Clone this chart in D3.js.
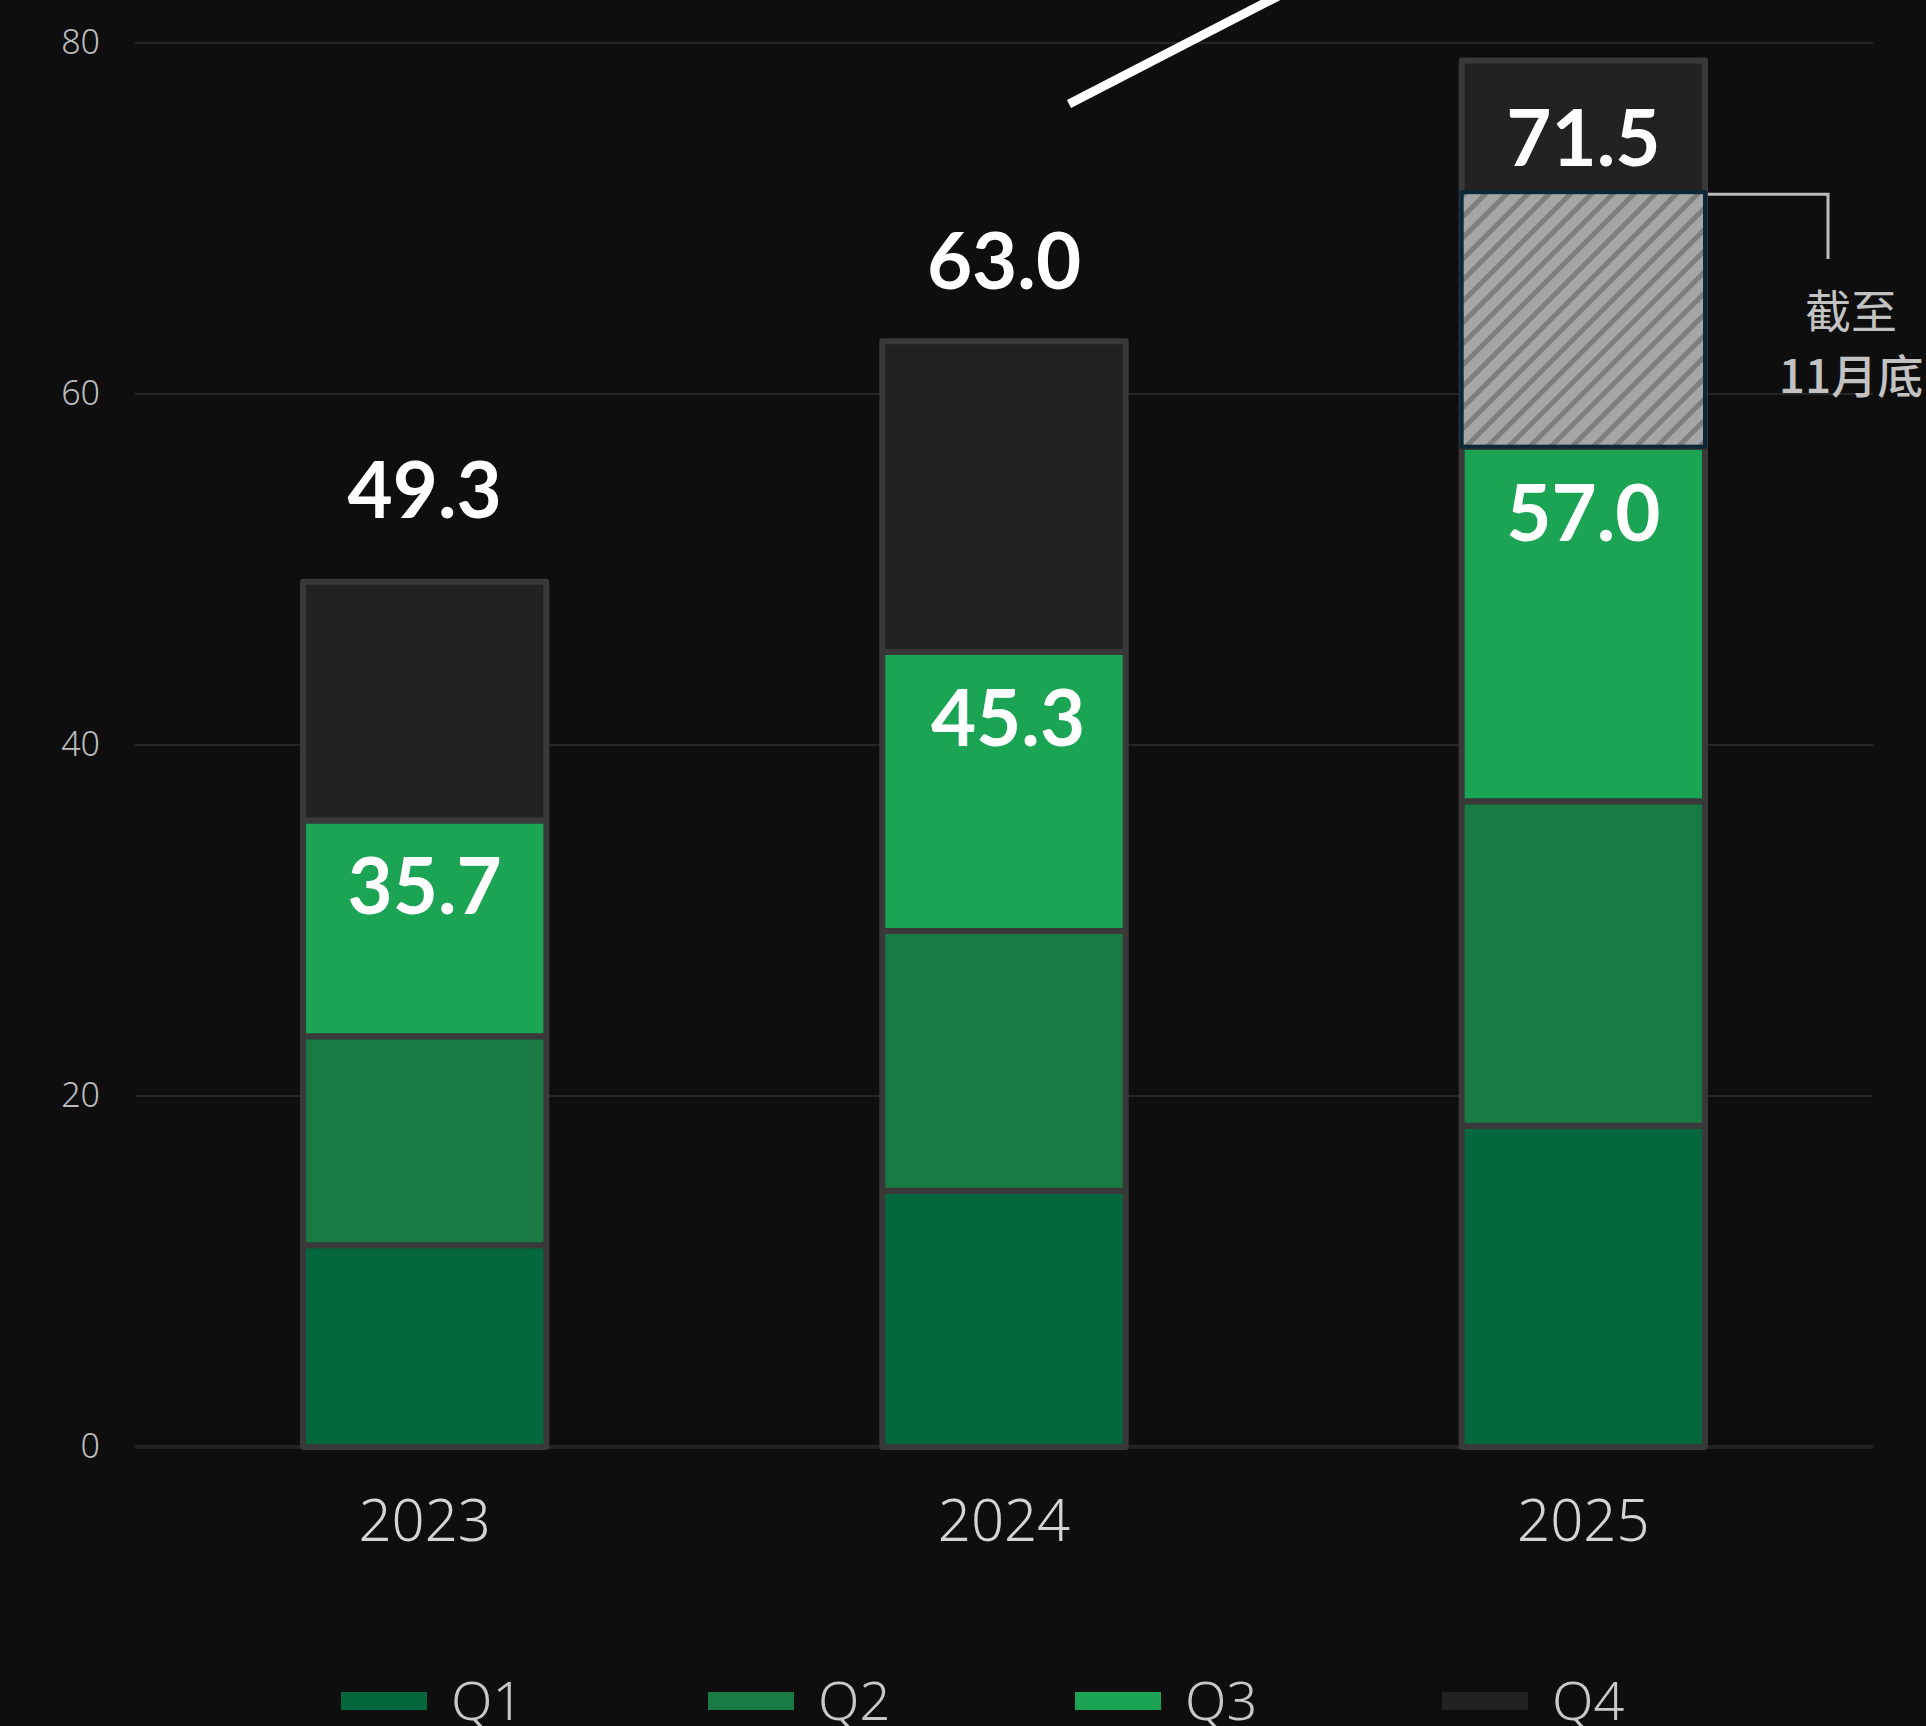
<!DOCTYPE html>
<html>
<head>
<meta charset="utf-8">
<script src="https://cdn.jsdelivr.net/npm/d3@7"></script>
<style>
  body { margin: 0; background: #0e0e0e; }
  svg { display: block; }
</style>
</head>
<body>
<div id="chart"></div>
<script>
const years = ['2023', '2024', '2025'];
const quarters = ['Q1', 'Q2', 'Q3', 'Q4'];
const q1 = [11.5, 14.6, 18.3];
const q2 = [11.9, 14.8, 18.5];
const q3 = [12.3, 15.9, 20.2];
const q4 = [13.6, 17.7, 22.0];
// Oct-Nov 2025 (as of end of November), drawn on top of Q3
const partial = [0, 0, 14.5];
const q3Labels = ['35.7', '45.3', '57.0'];
const totalLabels = ['49.3', '63.0', '71.5'];
const yTicks = [0, 20, 40, 60, 80];
const colors = ['#05673e', '#1a7a43', '#1aa453', '#222222'];

const width = 1926;
const height = 1726;

const rows = years.map((y, i) => ({ year: y, Q1: q1[i], Q2: q2[i], Q3: q3[i], Q4: q4[i] }));
const stacked = d3.stack().keys(quarters)(rows);

const xScale = d3.scaleBand()
    .domain(years)
    .range([135, 1873])
    .paddingInner(0.58)
    .paddingOuter(0.29);

const yScale = d3.scaleLinear()
    .domain([0, 80])
    .range([1447, 43]);

const svg = d3.select('#chart')
    .append('svg')
    .attr('width', width)
    .attr('height', height);

svg.append('rect')
    .attr('width', width)
    .attr('height', height)
    .attr('fill', '#0e0e0e');

// hatch pattern for partial quarter
const pat = svg.append('defs').append('pattern')
    .attr('id', 'hatch')
    .attr('patternUnits', 'userSpaceOnUse')
    .attr('width', 15)
    .attr('height', 15)
    .attr('patternTransform', 'rotate(45)');
pat.append('rect').attr('width', 15).attr('height', 15).attr('fill', '#a6a6a6');
pat.append('rect').attr('width', 5).attr('height', 15).attr('fill', '#7e7e7e');

// gridlines
svg.append('g')
    .selectAll('line')
    .data(yTicks)
    .enter()
    .append('line')
    .attr('x1', 135)
    .attr('x2', 1873)
    .attr('y1', d => yScale(d))
    .attr('y2', d => yScale(d))
    .attr('stroke', d => d === 0 ? '#222222' : '#262626')
    .attr('stroke-width', d => d === 0 ? 4 : 2);

// y axis labels
const yAxis = svg.append('g')
    .attr('transform', 'translate(100,0)')
    .call(d3.axisLeft(yScale).tickValues(yTicks).tickSize(0).tickPadding(0));
yAxis.select('.domain').remove();
yAxis.selectAll('text')
    .attr('fill', '#bcbcbc')
    .attr('font-family', 'Noto Sans')
    .attr('font-weight', 300)
    .attr('font-size', 34);

// x axis labels
const xAxis = svg.append('g')
    .attr('transform', 'translate(0,1500)')
    .call(d3.axisBottom(xScale).tickSize(0).tickPadding(0));
xAxis.select('.domain').remove();
xAxis.selectAll('text')
    .attr('fill', '#d4d4d4')
    .attr('font-family', 'Noto Sans')
    .attr('font-weight', 300)
    .attr('font-size', 58);

// stacked bars
svg.append('g')
    .selectAll('g')
    .data(stacked)
    .enter()
    .append('g')
    .attr('fill', (d, i) => colors[i])
    .selectAll('rect')
    .data(d => d)
    .enter()
    .append('rect')
    .attr('x', d => xScale(d.data.year))
    .attr('y', d => yScale(d[1]))
    .attr('width', xScale.bandwidth())
    .attr('height', d => yScale(d[0]) - yScale(d[1]))
    .attr('stroke', '#393939')
    .attr('stroke-width', 6)
    .attr('stroke-linejoin', 'round');

// partial (hatched) segment
const partRows = years.map((y, i) => ({ year: y, base: q1[i] + q2[i] + q3[i], v: partial[i] }))
    .filter(d => d.v > 0);
svg.append('g')
    .selectAll('rect')
    .data(partRows)
    .enter()
    .append('rect')
    .attr('x', d => xScale(d.year))
    .attr('y', d => yScale(d.base + d.v))
    .attr('width', xScale.bandwidth())
    .attr('height', d => yScale(d.base) - yScale(d.base + d.v))
    .attr('fill', 'url(#hatch)')
    .attr('stroke', '#0c2838')
    .attr('stroke-width', 4);

// labels inside Q3
svg.append('g')
    .selectAll('text')
    .data(years)
    .enter()
    .append('text')
    .attr('x', (d, i) => xScale(d) + xScale.bandwidth() / 2 + (i === 1 ? 4 : 0))
    .attr('y', (d, i) => yScale(q1[i] + q2[i] + q3[i]) + 94)
    .attr('text-anchor', 'middle')
    .attr('fill', '#ffffff')
    .attr('font-family', 'Lato')
    .attr('font-weight', 700)
    .attr('font-size', 78)
    .text((d, i) => q3Labels[i]);

// total labels
const totalVals = [q1[0] + q2[0] + q3[0] + q4[0], q1[1] + q2[1] + q3[1] + q4[1], q1[2] + q2[2] + q3[2] + partial[2]];
const totalOffset = [64, 52, 26];
svg.append('g')
    .selectAll('text')
    .data(years)
    .enter()
    .append('text')
    .attr('x', d => xScale(d) + xScale.bandwidth() / 2)
    .attr('y', (d, i) => yScale(totalVals[i]) - totalOffset[i])
    .attr('text-anchor', 'middle')
    .attr('fill', '#ffffff')
    .attr('font-family', 'Lato')
    .attr('font-weight', 700)
    .attr('font-size', 78)
    .text((d, i) => totalLabels[i]);

// annotation bracket
const annY = yScale(q1[2] + q2[2] + q3[2] + partial[2]) + 2;
const annX0 = xScale('2025') + xScale.bandwidth() + 3;
svg.append('path')
    .attr('d', `M${annX0},${annY}H1828V259`)
    .attr('fill', 'none')
    .attr('stroke', '#bdbdbd')
    .attr('stroke-width', 3);

svg.append('text')
    .attr('x', 1851)
    .attr('y', 328)
    .attr('text-anchor', 'middle')
    .attr('fill', '#c2c2c2')
    .attr('font-family', 'Noto Sans CJK TC')
    .attr('font-weight', 400)
    .attr('font-size', 46)
    .text('截至');
svg.append('text')
    .attr('x', 1851)
    .attr('y', 393)
    .attr('text-anchor', 'middle')
    .attr('fill', '#c2c2c2')
    .attr('font-family', 'Noto Sans CJK TC')
    .attr('font-weight', 500)
    .attr('font-size', 46)
    .text('11月底');

// trend line fragment at top
svg.append('line')
    .attr('x1', 1069)
    .attr('y1', 104)
    .attr('x2', 1290)
    .attr('y2', -10)
    .attr('stroke', '#ffffff')
    .attr('stroke-width', 9);

// legend
const legend = svg.append('g')
    .selectAll('g')
    .data(quarters)
    .enter()
    .append('g')
    .attr('transform', (d, i) => `translate(${341 + i * 367},1692)`);
legend.append('rect')
    .attr('width', 86)
    .attr('height', 18)
    .attr('fill', (d, i) => colors[i]);
legend.append('text')
    .attr('x', 110)
    .attr('y', 28)
    .attr('fill', '#c8c8c8')
    .attr('font-family', 'Noto Sans')
    .attr('font-weight', 300)
    .attr('font-size', 54)
    .text(d => d);
</script>
</body>
</html>
